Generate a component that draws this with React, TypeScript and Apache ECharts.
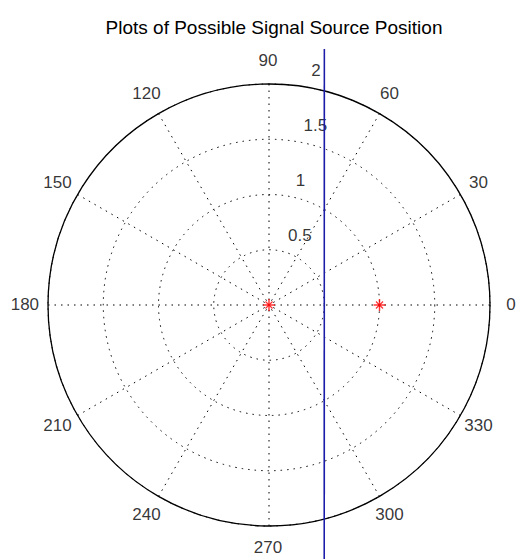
import React, { useEffect, useRef } from "react";
import * as echarts from "echarts";

// ---- data ----
const titleText = "Plots of Possible Signal Source Position";
const angleTicks = [0, 30, 60, 90, 120, 150, 180, 210, 240, 270, 300, 330];
const angleTickLabels = ["0", "30", "60", "90", "120", "150", "180", "210", "240", "270", "300", "330"];
const radiusTicks = [0.5, 1, 1.5, 2];
const radiusTickLabels = ["0.5", "1", "1.5", "2"];
// possible signal source positions: [radius, angle in degrees]
const signalPoints: [number, number][] = [
  [0, 0],
  [1, 0],
];
// straight line x = 0.5 drawn in polar form: [radius, angle in degrees]
const sourceLine: [number, number][] = [
  [2.37, 77.8],
  [2.55, 281.3],
];
const ANGLE_LABEL_RADIUS = 2.2; // 1.1 * rmax
const RADIUS_LABEL_ANGLE = 82;
const RADIUS_MAX = 2;
const OUTER_MAX = 3; // wider (hidden) polar with the same scale, so the line is not clipped

const FONT = "'Liberation Sans', Arial, sans-serif";
const DOT: number[] = [1.5, 5];
const CENTER = [269, 305];
const RADIUS_PX = 221;

export default function App() {
  const ref = useRef<HTMLDivElement>(null);

  useEffect(() => {
    if (!ref.current) return;
    const chart = echarts.init(ref.current, undefined, { renderer: "svg" });

    const plusPath = "path://M-5,-0.6H5V0.6H-5Z M-0.6,-5H0.6V5H-0.6Z";

    const option: any = {
      animation: false,
      backgroundColor: "#ffffff",
      title: {
        text: titleText,
        left: 269,
        top: 13,
        textAlign: "center",
        textStyle: {
          fontFamily: FONT,
          fontSize: 19,
          fontWeight: "normal",
          color: "#000",
        },
      },
      polar: [
        { center: CENTER, radius: RADIUS_PX },
        { center: CENTER, radius: (RADIUS_PX * OUTER_MAX) / RADIUS_MAX },
      ],
      angleAxis: [
        {
          polarIndex: 0,
          type: "value",
          min: 0,
          max: 360,
          interval: 30,
          startAngle: 0,
          clockwise: false,
          axisLine: { show: true, lineStyle: { color: "#000", width: 1.3 } },
          axisTick: { show: false },
          axisLabel: { show: false },
          splitLine: { show: true, lineStyle: { color: "#000", width: 1, type: DOT } },
        },
        {
          polarIndex: 1,
          type: "value",
          min: 0,
          max: 360,
          startAngle: 0,
          clockwise: false,
          axisLine: { show: false },
          axisTick: { show: false },
          axisLabel: { show: false },
          splitLine: { show: false },
        },
      ],
      radiusAxis: [
        {
          polarIndex: 0,
          type: "value",
          min: 0,
          max: RADIUS_MAX,
          interval: 0.5,
          axisLine: { show: false },
          axisTick: { show: false },
          axisLabel: { show: false },
          splitLine: { show: true, lineStyle: { color: "#000", width: 1, type: DOT } },
        },
        {
          polarIndex: 1,
          type: "value",
          min: 0,
          max: OUTER_MAX,
          axisLine: { show: false },
          axisTick: { show: false },
          axisLabel: { show: false },
          splitLine: { show: false },
        },
      ],
      series: [
        {
          type: "scatter",
          coordinateSystem: "polar",
          polarIndex: 0,
          clip: false,
          silent: true,
          symbolSize: 0,
          itemStyle: { color: "transparent" },
          data: angleTicks.map((a, i) => ({ value: [ANGLE_LABEL_RADIUS, a], name: angleTickLabels[i] })),
          label: {
            show: true,
            position: "inside",
            offset: [-1, -1],
            formatter: (p: any) => angleTickLabels[p.dataIndex],
            fontFamily: FONT,
            fontSize: 17,
            color: "#000",
          },
        },
        {
          type: "scatter",
          coordinateSystem: "polar",
          polarIndex: 0,
          clip: false,
          silent: true,
          symbolSize: 0,
          itemStyle: { color: "transparent" },
          data: radiusTicks.map((r, i) => ({ value: [r + RADIUS_MAX / 4 / 20, RADIUS_LABEL_ANGLE], name: radiusTickLabels[i] })),
          label: {
            show: true,
            position: [0, 0],
            align: "left",
            verticalAlign: "bottom",
            offset: [11, -4],
            formatter: (p: any) => radiusTickLabels[p.dataIndex],
            fontFamily: FONT,
            fontSize: 17,
            color: "#000",
          },
        },
        {
          type: "line",
          coordinateSystem: "polar",
          polarIndex: 1,
          clip: false,
          silent: true,
          symbol: "none",
          data: sourceLine,
          lineStyle: { color: "#1c1ca8", width: 1.6 },
          z: 3,
        },
        {
          type: "scatter",
          coordinateSystem: "polar",
          polarIndex: 0,
          clip: false,
          silent: true,
          symbol: plusPath,
          symbolSize: 12,
          itemStyle: { color: "#ff0000" },
          data: signalPoints,
          z: 4,
        },
        {
          type: "scatter",
          coordinateSystem: "polar",
          polarIndex: 0,
          clip: false,
          silent: true,
          symbol: plusPath,
          symbolSize: 10,
          symbolRotate: 45,
          itemStyle: { color: "#ff0000" },
          data: signalPoints,
          z: 4,
        },
      ],
    };

    chart.setOption(option);
    return () => chart.dispose();
  }, []);

  return (
    <div
      ref={ref}
      style={{ position: "absolute", left: 0, top: 0, width: 516, height: 559, background: "#fff" }}
    />
  );
}
